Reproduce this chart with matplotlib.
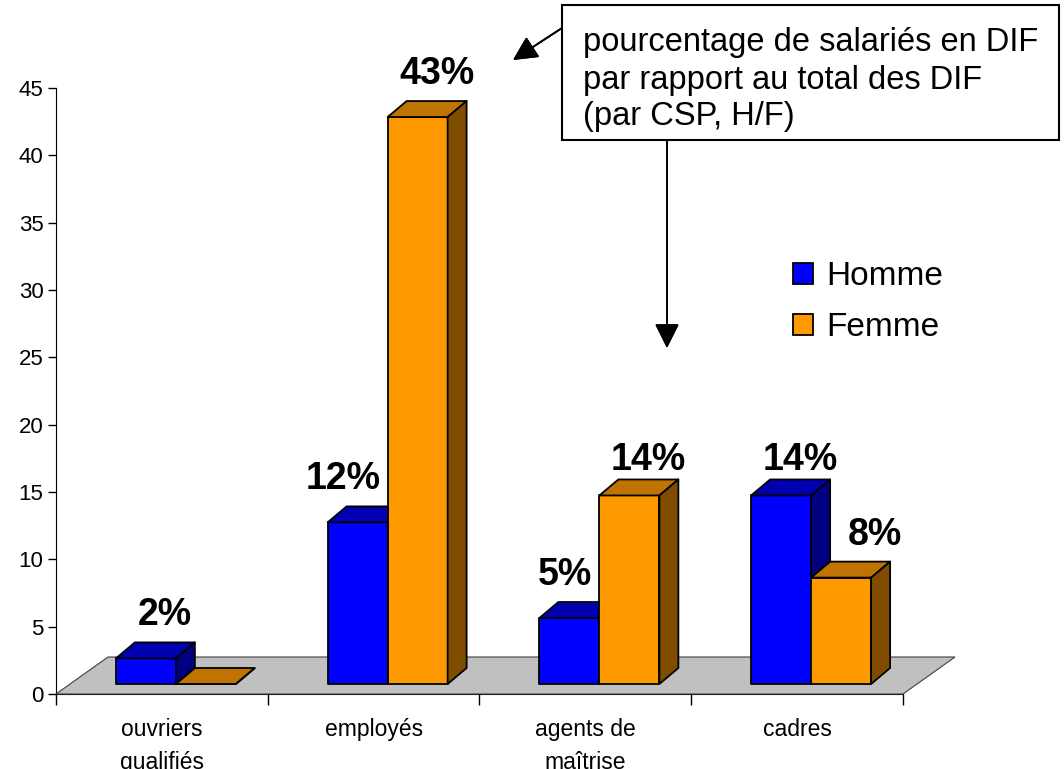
import matplotlib
matplotlib.use("Agg")
import matplotlib.pyplot as plt
from matplotlib.patches import Polygon, Patch, Rectangle

plt.rcParams["font.family"] = ["Liberation Sans", "DejaVu Sans"]

categories = ["ouvriers\nqualifiés", "employés", "agents de\nmaîtrise", "cadres"]
series_names = ["Homme", "Femme"]
homme = [1.9, 12.0, 4.9, 14.0]
femme = [0.0, 42.1, 14.0, 7.9]
homme_labels = ["2%", "12%", "5%", "14%"]
femme_labels = ["", "43%", "14%", "8%"]
y_ticks = [0, 5, 10, 15, 20, 25, 30, 35, 40, 45]
note = "pourcentage de salariés en DIF\npar rapport au total des DIF\n(par CSP, H/F)"

# face colours: front, top, side
colors = {
    "Homme": ("#0000FF", "#0000B0", "#000080"),
    "Femme": ("#FF9900", "#BF7300", "#7F4C00"),
}

W, H = 1064, 769
fig = plt.figure(figsize=(W / 100, H / 100), dpi=100)
ax = fig.add_axes([56 / W, 1 - 694 / H, (903 - 56) / W, (694 - 88) / H])
ax.set_xlim(0, len(categories))
ax.set_ylim(0, 45)

# pixel -> data unit helpers for the fake 3d
px_x = (903 - 56) / len(categories)
px_y = (694 - 88) / 45
floor_dx, floor_dy = 52 / px_x, 37 / px_y
front_dx, front_dy = 14 / px_x, 10 / px_y
depth_dx, depth_dy = 19 / px_x, 16 / px_y
bar_w = 60 / px_x

floor = Polygon([(0, 0), (len(categories), 0),
                 (len(categories) + floor_dx, floor_dy), (floor_dx, floor_dy)],
                closed=True, facecolor="#C0C0C0", edgecolor="#404040",
                lw=0.8, clip_on=False, zorder=1)
ax.add_patch(floor)


def draw_bar(xl, value, cols):
    xr = xl + bar_w
    b = front_dy
    t = b + value
    kw = dict(edgecolor="black", lw=1.3, clip_on=False, zorder=2, joinstyle="round")
    ax.add_patch(Polygon([(xl, b), (xr, b), (xr, t), (xl, t)], facecolor=cols[0], **kw))
    ax.add_patch(Polygon([(xl, t), (xr, t), (xr + depth_dx, t + depth_dy),
                          (xl + depth_dx, t + depth_dy)], facecolor=cols[1], **kw))
    ax.add_patch(Polygon([(xr, b), (xr + depth_dx, b + depth_dy),
                          (xr + depth_dx, t + depth_dy), (xr, t)], facecolor=cols[2], **kw))
    return xl + bar_w / 2 + depth_dx, t + depth_dy


# label nudges in pixels (Excel moves some labels aside)
nudges = {
    "Homme": [(0, 0), (-33, 0), (-23, 0), (0, -8)],
    "Femme": [(0, 0), (0, 0), (0, -8), (15, 0)],
}

for i in range(len(categories)):
    c = i + 0.5 + front_dx
    for name, vals, labs, xl in [("Homme", homme, homme_labels, c - bar_w),
                                 ("Femme", femme, femme_labels, c)]:
        lx, ly = draw_bar(xl, vals[i], colors[name])
        if labs[i]:
            nx, ny = nudges[name][i]
            ax.annotate(labs[i], (lx, ly), xytext=(nx, 27 + ny),
                        textcoords="offset pixels", ha="center", va="center",
                        fontsize=27, fontweight="bold", annotation_clip=False, zorder=5)

# axes
for s in ["top", "right"]:
    ax.spines[s].set_visible(False)
ax.spines["left"].set_zorder(0.5)
ax.spines["bottom"].set_zorder(0.5)
ax.set_yticks(y_ticks)
ax.tick_params(axis="y", direction="out", length=6, width=1, labelsize=16, pad=3)
ax.set_xticks(range(len(categories) + 1))
ax.set_xticklabels([])
ax.tick_params(axis="x", which="major", direction="out", length=8, width=1)
ax.set_xticks([i + 0.5 for i in range(len(categories))], minor=True)
ax.set_xticklabels(categories, minor=True, fontsize=16.5, linespacing=1.6)
ax.tick_params(axis="x", which="minor", length=0, pad=17)

# legend
handles = [Patch(facecolor=colors[n][0], edgecolor="black", lw=1.3) for n in series_names]
ax.legend(handles, series_names, loc="upper left", bbox_to_anchor=(793 / W, 1 - 261 / H),
          bbox_transform=fig.transFigure, frameon=False, fontsize=24,
          handlelength=0.6, handleheight=0.6, handletextpad=0.4,
          labelspacing=0.6, borderpad=0, borderaxespad=0)

# note box with arrows
fig.patches.append(Rectangle((562 / W, 1 - 140 / H), (1059 - 562) / W, 135 / H,
                             transform=fig.transFigure, facecolor="white",
                             edgecolor="black", lw=1.5, zorder=10))
fig.text(583 / W, 1 - 80 / H, note, fontsize=23.5, va="center", ha="left",
         linespacing=1.25, zorder=11)
arrow = dict(arrowstyle="-|>,head_length=0.5,head_width=0.25", mutation_scale=30,
             color="black", lw=1.3, shrinkA=0, shrinkB=0)
fig.add_artist(plt.annotate("", xy=(513 / W, 1 - 60 / H), xytext=(562 / W, 1 - 28 / H),
                            xycoords="figure fraction", arrowprops=arrow))
fig.add_artist(plt.annotate("", xy=(667 / W, 1 - 348 / H), xytext=(667 / W, 1 - 140 / H),
                            xycoords="figure fraction", arrowprops=arrow))

fig.savefig("out.png", dpi=100)
